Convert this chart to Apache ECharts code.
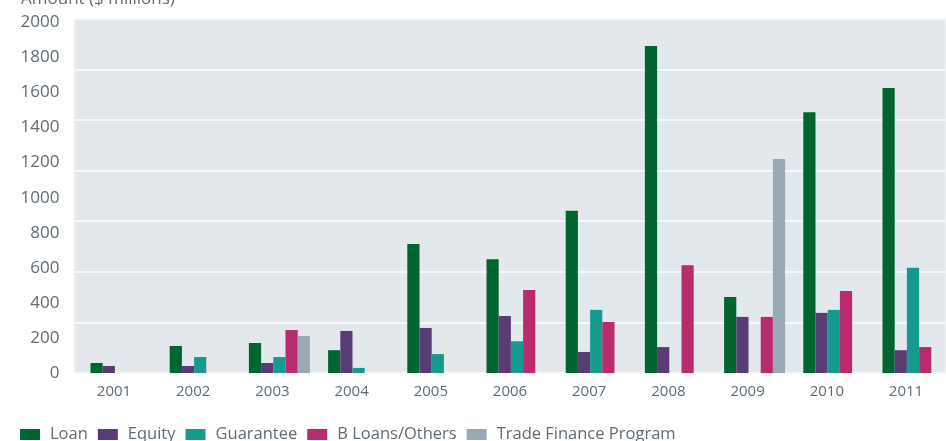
<!DOCTYPE html>
<html>
<head>
<meta charset="utf-8">
<script src="https://cdn.jsdelivr.net/npm/echarts@6/dist/echarts.min.js"></script>
<style>html,body{margin:0;padding:0;background:#fff;}#c{width:946px;height:441px;}</style>
</head>
<body>
<div id="c"></div>
<script>
const years = ['2001','2002','2003','2004','2005','2006','2007','2008','2009','2010','2011'];
const loan      = [57, 154, 171, 130, 736, 649, 925, 1865, 434, 1488, 1625];
const equity    = [40, 40, 57, 240, 257, 325, 120, 148, 320, 343, 130];
const guarantee = [null, 91, 91, 29, 108, 181, 360, null, null, 360, 600];
const bLoans    = [null, null, 245, null, null, 474, 291, 615, 320, 468, 148];
const tradeFin  = [null, null, 211, null, null, null, null, null, 1220, null, null];
const yTicks = [0, 200, 400, 600, 800, 1000, 1200, 1400, 1600, 1800, 2000];

const txt = '#5f6c75';
const font = 'Open Sans';
const chart = echarts.init(document.getElementById('c'), null, {renderer: 'canvas'});
const mk = (name, data, color) => ({
  name, type: 'bar', data, barWidth: 12.2, barGap: '0%',
  itemStyle: {color}, yAxisIndex: 0
});
chart.setOption({
  animation: false,
  title: {text: 'Amount ($ millions)', left: 16, top: -14,
    textStyle: {fontFamily: font, fontSize: 17, fontWeight: 'normal', color: txt}},
  legend: {
    left: 15, bottom: -7, itemWidth: 20, itemHeight: 11, itemGap: 10,
    icon: 'rect',
    textStyle: {fontFamily: font, fontSize: 16.5, color: txt, padding: [0,0,0,5]},
    data: ['Loan','Equity','Guarantee','B Loans/Others','Trade Finance Program']
  },
  grid: {left: 74.4, right: 0.4, top: 18.7, bottom: 68, show: true,
    backgroundColor: '#e3e8ec', borderWidth: 0},
  xAxis: {
    type: 'category', data: years,
    axisLine: {show: false}, axisTick: {show: false},
    axisLabel: {fontFamily: font, fontSize: 15, color: txt, margin: 11}
  },
  yAxis: [{
    type: 'value', min: 0, max: 2021, interval: 200,
    splitLine: {show: false}, axisLine: {show: false}, axisTick: {show: false},
    axisLabel: {fontFamily: font, fontSize: 17, color: txt, margin: 15,
      formatter: v => yTicks.includes(v) ? String(v) : ''}
  }, {
    type: 'value', min: 0, max: 7, interval: 1, position: 'right',
    axisLabel: {show: false}, axisLine: {show: false}, axisTick: {show: false},
    splitLine: {show: true, lineStyle: {color: '#f6f8f9', width: 2}}
  }],
  series: [
    {name: '_pad', type: 'bar', data: [], barWidth: 14, barGap: '0%', yAxisIndex: 0},
    mk('Loan', loan, '#00652e'),
    mk('Equity', equity, '#5a3c74'),
    mk('Guarantee', guarantee, '#169a8f'),
    mk('B Loans/Others', bLoans, '#b92b6e'),
    mk('Trade Finance Program', tradeFin, '#9aaab4')
  ]
});
</script>
</body>
</html>
